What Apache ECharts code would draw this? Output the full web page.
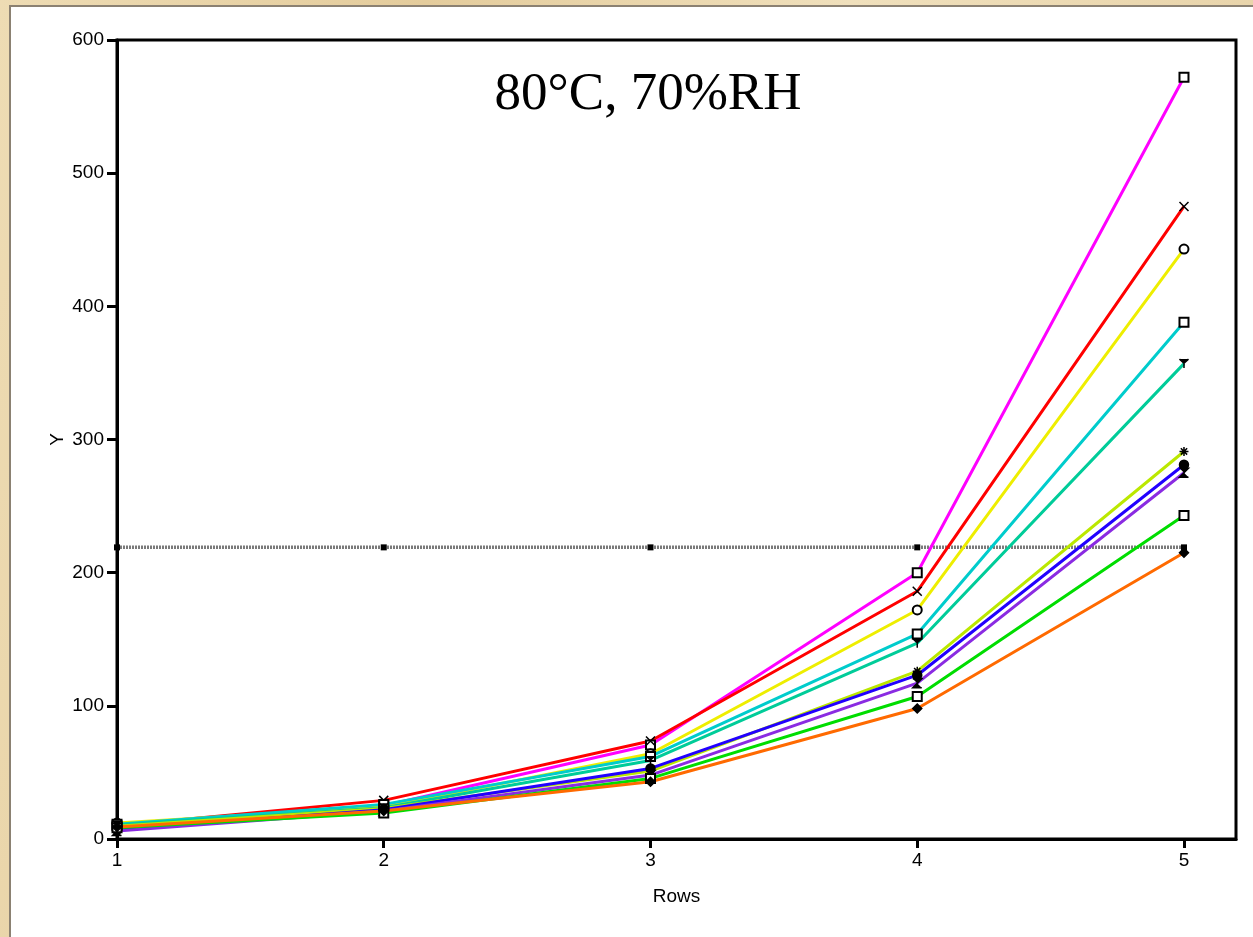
<!DOCTYPE html>
<html>
<head>
<meta charset="utf-8">
<title>80°C, 70%RH</title>
<script src="https://cdn.jsdelivr.net/npm/echarts@6/dist/echarts.min.js"></script>
<style>
    html, body {
        margin: 0;
        padding: 0;
        width: 1253px;
        height: 937px;
        overflow: hidden;
        background: linear-gradient(100deg, #eedcb4 0%, #e4cc9c 30%, #f0e0bc 60%, #e6d0a4 100%);
    }
    #panel {
        position: absolute;
        left: 9px;
        top: 5px;
        right: 0;
        bottom: 0;
        background: #fff;
        border-left: 2px solid #8b8172;
        border-top: 2px solid #8b8172;
    }
    #chart {
        position: absolute;
        left: 0;
        top: 0;
        width: 1253px;
        height: 937px;
    }
</style>
</head>
<body>
<div id="panel"></div>
<div id="chart"></div>
<script>
// x positions (Rows)
var rows = [1, 2, 3, 4, 5]
var yTicks = [0, 100, 200, 300, 400, 500, 600]

// one array per curve
var magentaVals = [10, 25, 70.6, 200, 572]
var redVals = [10, 29, 73.6, 186, 475]
var yellowVals = [12, 24, 64, 172, 443]
var cyanVals = [11, 26, 62, 154, 388]
var tealVals = [10.5, 23.5, 59, 147, 357]
var limeVals = [9.5, 23, 51, 126, 291]
var blueVals = [7, 22, 53, 123, 281]
var purpleVals = [6, 21, 48, 117, 275]
var greenVals = [8.5, 19.5, 45.5, 107, 243]
var orangeVals = [9, 21, 43, 98, 215]
// horizontal limit line
var limitVals = [219, 219, 219, 219, 219]

var SYM_X = 'path://M0,0L10,10M10,0L0,10'
var SYM_Y = 'path://M0,0L5,5L10,0M5,5L5,11'
var SYM_STAR = 'path://M5,0L5,10M0,5L10,5M1.5,1.5L8.5,8.5M8.5,1.5L1.5,8.5'
var SYM_Z = 'path://M0,0L10,0L0,10L10,10'

var curves = [
    { name: 'C1', data: magentaVals, color: '#ff00ff', symbol: 'emptyRect' },
    { name: 'C2', data: redVals, color: '#ff0000', symbol: SYM_X },
    { name: 'C3', data: yellowVals, color: '#eeee00', symbol: 'emptyCircle' },
    { name: 'C4', data: cyanVals, color: '#00cccc', symbol: 'emptyRect' },
    { name: 'C5', data: tealVals, color: '#00cc99', symbol: SYM_Y },
    { name: 'C6', data: limeVals, color: '#bbe800', symbol: SYM_STAR },
    { name: 'C7', data: blueVals, color: '#2200ff', symbol: 'circle' },
    { name: 'C8', data: purpleVals, color: '#8a2be2', symbol: SYM_Z },
    { name: 'C9', data: greenVals, color: '#00dd00', symbol: 'emptyRect' },
    { name: 'C10', data: orangeVals, color: '#ff6a00', symbol: 'diamond' }
]

function toPairs(vals) {
    var res = []
    for (var i = 0; i < rows.length; i++) {
        res.push([rows[i], vals[i]])
    }
    return res
}

var series = [{
    name: 'limit',
    type: 'line',
    data: toPairs(limitVals),
    symbol: 'rect',
    symbolSize: 6,
    itemStyle: { color: '#000' },
    lineStyle: { color: '#7a7a7a', width: 3.5, type: [2, 1] },
    z: 1,
    silent: true
}]

curves.forEach(function (c) {
    series.push({
        name: c.name,
        type: 'line',
        data: toPairs(c.data),
        symbol: c.symbol,
        symbolSize: 9,
        itemStyle: { color: '#000', borderColor: '#000', borderWidth: 1.5 },
        lineStyle: { color: c.color, width: 3 },
        z: 2
    })
})

var myChart = echarts.init(document.getElementById('chart'), null, { renderer: 'canvas' })

var option = {
    backgroundColor: 'transparent',
    animation: false,
    title: {
        text: '80°C, 70%RH',
        left: 643,
        top: 64,
        textAlign: 'center',
        textStyle: {
            fontFamily: 'Liberation Serif',
            fontWeight: 'normal',
            fontSize: 53,
            color: '#000'
        }
    },
    grid: {
        left: 117,
        right: 17,
        top: 40,
        bottom: 98,
        show: true,
        borderColor: '#000',
        borderWidth: 3,
        backgroundColor: '#fff'
    },
    xAxis: {
        type: 'value',
        min: 1,
        max: 5.195,
        interval: 1,
        name: 'Rows',
        nameLocation: 'middle',
        nameGap: 48,
        nameMoveOverlap: false,
        nameTextStyle: { fontFamily: 'Liberation Sans', fontSize: 19, color: '#000' },
        axisLine: { lineStyle: { color: '#000', width: 3 } },
        axisTick: { length: 9, lineStyle: { color: '#000', width: 3 }, customValues: rows },
        axisLabel: { fontFamily: 'Liberation Sans', fontSize: 19, color: '#000', margin: 12, customValues: rows },
        splitLine: { show: false }
    },
    yAxis: {
        type: 'value',
        min: 0,
        max: 600,
        interval: 100,
        name: 'Y',
        nameLocation: 'middle',
        nameGap: 50,
        nameMoveOverlap: false,
        nameRotate: 90,
        nameTextStyle: { fontFamily: 'Liberation Sans', fontSize: 19, color: '#000' },
        axisLine: { show: true, lineStyle: { color: '#000', width: 3 } },
        axisTick: { show: true, length: 10, lineStyle: { color: '#000', width: 3 } },
        axisLabel: { fontFamily: 'Liberation Sans', fontSize: 19, color: '#000', margin: 13 },
        splitLine: { show: false }
    },
    series: series
}
myChart.setOption(option)
</script>
</body>
</html>
